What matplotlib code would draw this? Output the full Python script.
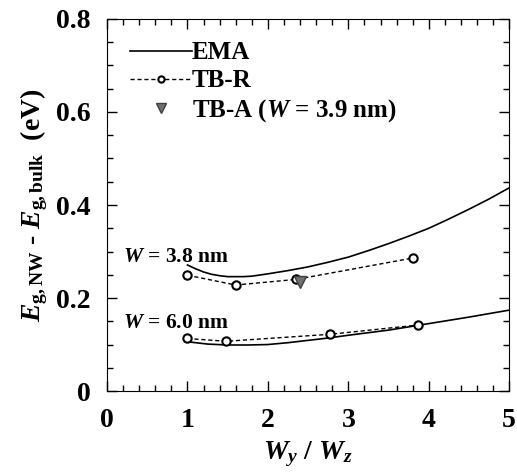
import matplotlib
matplotlib.use("Agg")
import matplotlib.pyplot as plt
from matplotlib.ticker import MultipleLocator

plt.rcParams['font.family'] = 'Liberation Serif'
plt.rcParams['font.weight'] = 'bold'
plt.rcParams['axes.labelweight'] = 'bold'
plt.rcParams['mathtext.fontset'] = 'custom'
plt.rcParams['mathtext.rm'] = 'Liberation Serif:bold'
plt.rcParams['mathtext.it'] = 'Liberation Serif:bold:italic'
plt.rcParams['mathtext.bf'] = 'Liberation Serif:bold'

# EMA curves
ema38_x = [1.0, 1.1, 1.2, 1.3, 1.4, 1.5, 1.6, 1.7, 1.8, 2.0, 2.25, 2.5, 2.75, 3.0, 3.25, 3.5, 3.75, 4.0, 4.25, 4.5, 4.75, 5.0]
ema38_y = [0.271, 0.263, 0.256, 0.251, 0.248, 0.246, 0.246, 0.246, 0.247, 0.252, 0.259, 0.267, 0.277, 0.288, 0.302, 0.317, 0.333, 0.350, 0.370, 0.391, 0.413, 0.437]
ema60_x = [1.0, 1.25, 1.5, 1.75, 2.0, 2.25, 2.5, 2.75, 3.0, 3.5, 4.0, 4.5, 5.0]
ema60_y = [0.106, 0.101, 0.099, 0.099, 0.100, 0.104, 0.109, 0.114, 0.120, 0.131, 0.145, 0.159, 0.174]

# TB-R points
tbr38_x = [1.0, 1.6, 2.35, 3.8]
tbr38_y = [0.249, 0.228, 0.240, 0.286]
tbr60_x = [1.0, 1.48, 2.77, 3.87]
tbr60_y = [0.113, 0.107, 0.122, 0.142]

# TB-A point
tba_x = [2.4]
tba_y = [0.235]

fig = plt.figure(figsize=(5.17, 4.74), dpi=100)
ax = fig.add_axes([0.207, 0.175, 0.778, 0.785])

ax.plot(ema38_x, ema38_y, '-', color='black', lw=1.2, label='EMA')
ax.plot(ema60_x, ema60_y, '-', color='black', lw=1.2)
ax.plot(tbr38_x, tbr38_y, '--', color='black', lw=1.0, dashes=(3, 2), marker='o', ms=6,
        mfc='white', mec='black', mew=1.5, label='TB-R')
ax.plot(tbr60_x, tbr60_y, '--', color='black', lw=1.0, dashes=(3, 2), marker='o', ms=6,
        mfc='white', mec='black', mew=1.5)
ax.plot(tba_x, tba_y, 'v', color='#707070', ms=9, mec='#404040',
        label='TB-A ($W$ = 3.9 nm)')

ax.text(0.2, 0.288, '$W$ = 3.8 nm', fontsize=15.5, va='center', ha='left')
ax.text(0.2, 0.146, '$W$ = 6.0 nm', fontsize=15.5, va='center', ha='left')

ax.set_xlim(0, 5)
ax.set_ylim(0, 0.8)
ax.xaxis.set_major_locator(MultipleLocator(1))
ax.xaxis.set_minor_locator(MultipleLocator(0.2))
ax.yaxis.set_minor_locator(MultipleLocator(0.05))
ax.set_yticks([0, 0.2, 0.4, 0.6, 0.8])
ax.set_yticklabels(['0', '0.2', '0.4', '0.6', '0.8'])
ax.tick_params(which='both', direction='in', top=True, right=True, labelsize=20)
ax.tick_params(which='major', length=7, width=1)
ax.tick_params(which='minor', length=4, width=1)
ax.tick_params(axis='x', pad=12)
ax.tick_params(axis='y', pad=12)

ax.set_xlabel('$W_y$ / $W_z$', fontsize=20, labelpad=5)
ax.set_ylabel('$E_{\\mathrm{g,NW}}$ - $E_{\\mathrm{g,bulk}}$  (eV)', fontsize=20, labelpad=4)

ax.legend(loc='upper left', frameon=False, fontsize=18, handlelength=2.5,
          handletextpad=0.0, borderaxespad=0.5, labelspacing=0.2,
          markerscale=0.75)

fig.savefig('out.png', dpi=100)
